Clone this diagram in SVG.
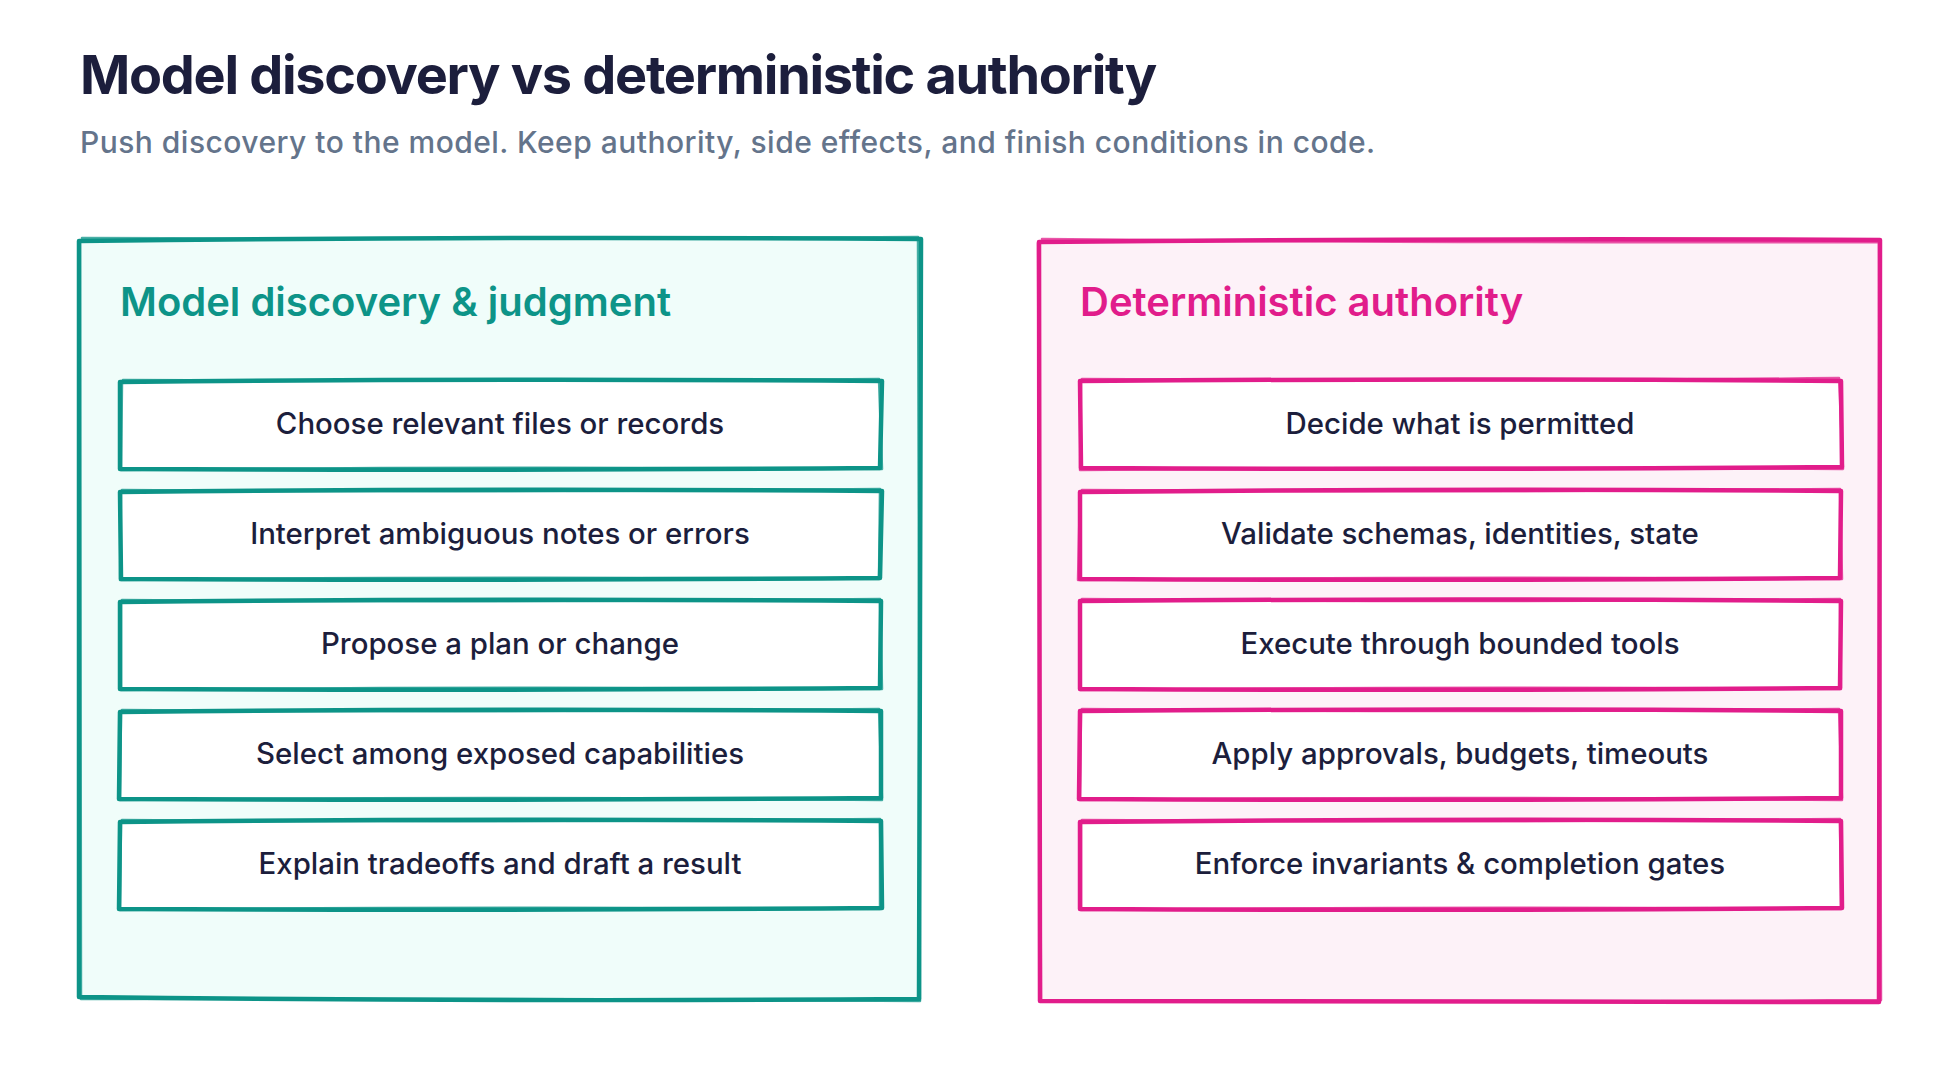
<svg xmlns="http://www.w3.org/2000/svg" width="1960" height="1080" viewBox="0 0 1960 1080">
<style>
.title{font-family:Inter,"Noto Sans","Liberation Sans",sans-serif;font-weight:700;font-size:54px;letter-spacing:-1.3px;fill:#1c1e3c}
.sub{font-family:Inter,"Noto Sans","Liberation Sans",sans-serif;font-weight:500;font-size:30px;letter-spacing:0.47px;fill:#64748b}
.hd{font-family:Inter,"Noto Sans","Liberation Sans",sans-serif;font-weight:600;font-size:40px}
.item{font-family:Inter,"Noto Sans","Liberation Sans",sans-serif;font-weight:500;font-size:29.4px;fill:#1c1e3c;text-anchor:middle}
.teal{stroke:#0d9488;fill:none;stroke-linecap:round;stroke-linejoin:round}
.pink{stroke:#e11d8b;fill:none;stroke-linecap:round;stroke-linejoin:round}
.s1{stroke-width:4.5}
.s2{stroke-width:2.5;opacity:0.75}
</style>
<rect width="1960" height="1080" fill="#ffffff"/>
<text class="title" x="80" y="94">Model discovery vs deterministic authority</text>
<text class="sub" x="80" y="153">Push discovery to the model. Keep authority, side effects, and finish conditions in code.</text>

<g id="panel-model">
<path d="M80 240 L920 238 L919 1000 L80 998 Z" fill="#f0fdfa"/>
<path class="teal s1" d="M79 241 Q500 236 921 239 L919 999 Q500 1002 79 997 Z"/>
<path class="teal s2" d="M82 238 Q480 240 918 237 L920 1001 Q450 998 81 999 L80 241"/>
<text class="hd" x="120" y="316" fill="#0d9488">Model discovery &amp; judgment</text>
</g>
<g id="panel-det">
<path d="M1040 240 L1880 240 L1879 1001 L1040 1000 Z" fill="#fdf2f8"/>
<path class="pink s1" d="M1039 242 Q1460 238 1880 240 L1879 1002 Q1460 1000 1040 1001 Z"/>
<path class="pink s2" d="M1042 239 Q1400 243 1879 242 L1881 1000 Q1500 1003 1041 1000 L1038 243"/>
<text class="hd" x="1080" y="316" fill="#e11d8b">Deterministic authority</text>
</g>

<g id="m1">
<path d="M121 381 L881 381 L880 468 L121 469 Z" fill="#fff"/>
<path class="teal s1" d="M120 382 Q500 378 882 381 L880 468 Q500 471 120 469 Z"/>
<path class="teal s2" d="M123 380 Q520 382 879 379 L882 469 Q480 466 121 470 L122 383"/>
<text class="item" x="500" y="434">Choose relevant files or records</text>
</g>
<g id="m2">
<path d="M121 491 L881 491 L880 578 L121 579 Z" fill="#fff"/>
<path class="teal s1" d="M120 492 Q500 488 882 491 L880 578 Q500 581 121 579 Z"/>
<path class="teal s2" d="M122 490 Q520 493 880 489 L879 579 Q480 576 120 580 L121 493"/>
<text class="item" x="500" y="544">Interpret ambiguous notes or errors</text>
</g>
<g id="m3">
<path d="M121 601 L881 601 L880 688 L121 689 Z" fill="#fff"/>
<path class="teal s1" d="M120 602 Q500 598 881 601 L880 688 Q500 691 120 689 Z"/>
<path class="teal s2" d="M122 600 Q520 603 880 599 L882 689 Q480 686 121 690 L121 603"/>
<text class="item" x="500" y="654">Propose a plan or change</text>
</g>
<g id="m4">
<path d="M121 711 L881 711 L880 798 L121 799 Z" fill="#fff"/>
<path class="teal s1" d="M120 712 Q500 708 881 711 L881 798 Q500 801 119 799 Z"/>
<path class="teal s2" d="M122 710 Q520 713 879 709 L882 800 Q480 796 120 800 L121 713"/>
<text class="item" x="500" y="764">Select among exposed capabilities</text>
</g>
<g id="m5">
<path d="M121 821 L881 821 L880 908 L121 909 Z" fill="#fff"/>
<path class="teal s1" d="M120 822 Q500 818 881 821 L882 908 Q500 911 119 909 Z"/>
<path class="teal s2" d="M122 820 Q520 823 880 819 L880 909 Q480 906 120 910 L121 823"/>
<text class="item" x="500" y="874">Explain tradeoffs and draft a result</text>
</g>

<g id="d1">
<path d="M1081 381 L1841 381 L1840 468 L1081 469 Z" fill="#fff"/>
<path class="pink s1" d="M1080 381 Q1460 378 1841 381 L1842 467 Q1460 470 1081 468 Z"/>
<path class="pink s2" d="M1082 379 Q1480 382 1839 378 L1843 469 Q1440 466 1080 470 L1081 383"/>
<text class="item" x="1460" y="434">Decide what is permitted</text>
</g>
<g id="d2">
<path d="M1081 491 L1841 491 L1840 578 L1081 579 Z" fill="#fff"/>
<path class="pink s1" d="M1080 492 Q1460 488 1841 491 L1840 578 Q1460 581 1080 579 Z"/>
<path class="pink s2" d="M1082 490 Q1480 493 1840 489 L1842 579 Q1440 576 1078 580 L1080 493"/>
<text class="item" x="1460" y="544">Validate schemas, identities, state</text>
</g>
<g id="d3">
<path d="M1081 601 L1841 601 L1840 688 L1081 689 Z" fill="#fff"/>
<path class="pink s1" d="M1080 601 Q1460 598 1841 601 L1840 688 Q1460 691 1080 689 Z"/>
<path class="pink s2" d="M1082 599 Q1480 603 1840 599 L1841 689 Q1440 686 1080 690 L1080 603"/>
<text class="item" x="1460" y="654">Execute through bounded tools</text>
</g>
<g id="d4">
<path d="M1081 711 L1841 711 L1840 798 L1081 799 Z" fill="#fff"/>
<path class="pink s1" d="M1080 711 Q1460 708 1841 711 L1841 798 Q1460 801 1079 799 Z"/>
<path class="pink s2" d="M1082 709 Q1480 713 1839 709 L1842 800 Q1440 796 1080 800 L1081 713"/>
<text class="item" x="1460" y="764">Apply approvals, budgets, timeouts</text>
</g>
<g id="d5">
<path d="M1081 821 L1841 821 L1840 908 L1081 909 Z" fill="#fff"/>
<path class="pink s1" d="M1080 822 Q1460 818 1841 821 L1842 908 Q1460 911 1080 909 Z"/>
<path class="pink s2" d="M1082 820 Q1480 823 1840 819 L1841 909 Q1440 906 1081 910 L1081 823"/>
<text class="item" x="1460" y="874">Enforce invariants &amp; completion gates</text>
</g>
<g id="connectors"></g>
</svg>
